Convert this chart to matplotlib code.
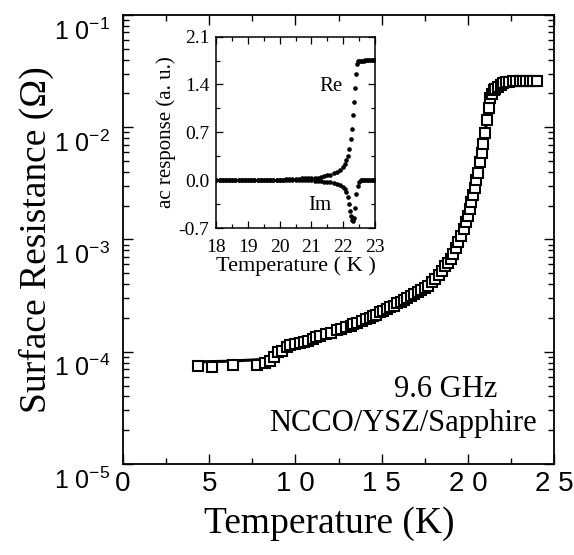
import matplotlib
matplotlib.use('Agg')
import matplotlib.pyplot as plt
import matplotlib.transforms as mtransforms
import numpy as np
from matplotlib.ticker import MultipleLocator, LogLocator, NullFormatter, FixedLocator

# Main data: surface resistance squares (T in K, log10 of Rs in ohm)
sq_t = [4.35, 5.15, 6.4, 7.75, 8.25, 8.5, 8.75, 9.0, 9.25, 9.5, 9.7, 9.95,
        10.25, 10.5, 10.75, 11.0, 11.2, 11.45, 11.8, 12.05, 12.4, 12.65, 12.95,
        13.2, 13.35, 13.6, 13.85, 14.1, 14.3, 14.5, 14.7, 14.9, 15.1, 15.3,
        15.5, 15.7, 15.9, 16.1, 16.3, 16.5, 16.7, 16.9, 17.1, 17.3, 17.5,
        17.7, 17.9, 18.1, 18.3, 18.5, 18.7, 18.85, 19.0, 19.15, 19.3, 19.45,
        19.6, 19.75, 19.9, 20.0, 20.1, 20.2, 20.3, 20.4, 20.5, 20.6, 20.7,
        20.8, 20.9, 21.0, 21.1, 21.2, 21.3, 21.4, 21.5, 21.6, 21.75, 21.9,
        22.05, 22.2, 22.4, 22.6, 22.8, 23.0, 23.2, 23.4, 23.6, 23.8, 24.0]
sq_log_rs = [-4.13, -4.135, -4.12, -4.12, -4.10, -4.08, -4.05, -4.00, -3.99,
             -3.96, -3.94, -3.93, -3.92, -3.91, -3.90, -3.89, -3.87, -3.86,
             -3.84, -3.83, -3.81, -3.80, -3.78, -3.77, -3.75, -3.74, -3.73,
             -3.71, -3.70, -3.68, -3.67, -3.65, -3.64, -3.62, -3.60, -3.59,
             -3.57, -3.56, -3.54, -3.52, -3.50, -3.49, -3.47, -3.45, -3.43,
             -3.41, -3.38, -3.35, -3.32, -3.28, -3.24, -3.21, -3.17, -3.13,
             -3.08, -3.02, -2.97, -2.91, -2.84, -2.79, -2.73, -2.67, -2.60,
             -2.54, -2.47, -2.41, -2.31, -2.23, -2.15, -2.05, -1.94, -1.83,
             -1.74, -1.70, -1.67, -1.66, -1.64, -1.62, -1.61, -1.60, -1.595,
             -1.59, -1.59, -1.585, -1.585, -1.585, -1.585, -1.585, -1.585]

# fit curve
fit_t = [4.3, 6.0, 8.0, 8.5, 9.0, 9.5, 10.0, 11.0, 12.0, 13.0, 14.0, 15.0,
         16.0, 17.0, 18.0, 18.5, 19.0, 19.5, 20.0, 20.5, 21.0, 21.2, 21.4,
         21.7, 22.0, 23.0, 24.0]
fit_log_rs = [-4.09, -4.085, -4.07, -4.05, -4.01, -3.97, -3.94, -3.89, -3.84,
              -3.79, -3.72, -3.65, -3.56, -3.47, -3.35, -3.28, -3.17, -3.02,
              -2.79, -2.47, -2.05, -1.83, -1.70, -1.64, -1.61, -1.59, -1.585]

# Inset: ac response
re_t = [18.0, 18.1, 18.2, 18.3, 18.4, 18.5, 18.6, 18.7, 18.8, 18.9, 19.0,
        19.1, 19.2, 19.3, 19.4, 19.5, 19.6, 19.7, 19.8, 19.9, 20.0, 20.1,
        20.2, 20.3, 20.4, 20.5, 20.6, 20.7, 20.8, 20.9, 21.0, 21.1, 21.2,
        21.3, 21.4, 21.5, 21.6, 21.7, 21.8, 21.9, 22.0, 22.05, 22.1, 22.15,
        22.2, 22.25, 22.28, 22.31, 22.34, 22.37, 22.4, 22.43, 22.46, 22.5,
        22.55, 22.6, 22.65, 22.7, 22.75, 22.8, 22.85, 22.9, 22.95, 23.0]
re_val = [0.0, 0.0, 0.0, 0.0, 0.0, 0.0, 0.0, 0.0, 0.0, 0.0, 0.0,
          0.0, 0.0, 0.0, 0.0, 0.0, 0.01, 0.01, 0.01, 0.01, 0.01, 0.01,
          0.02, 0.02, 0.02, 0.02, 0.02, 0.03, 0.03, 0.03, 0.03, 0.04, 0.04,
          0.05, 0.06, 0.07, 0.08, 0.10, 0.12, 0.15, 0.20, 0.24, 0.29, 0.36,
          0.45, 0.60, 0.75, 0.95, 1.15, 1.35, 1.55, 1.70, 1.74, 1.75,
          1.75, 1.75, 1.75, 1.76, 1.76, 1.76, 1.76, 1.76, 1.76, 1.76]
im_t = [18.0, 18.1, 18.2, 18.3, 18.4, 18.5, 18.6, 18.7, 18.8, 18.9, 19.0,
        19.1, 19.2, 19.3, 19.4, 19.5, 19.6, 19.7, 19.8, 19.9, 20.0, 20.1,
        20.2, 20.3, 20.4, 20.5, 20.6, 20.7, 20.8, 20.9, 21.0, 21.1, 21.2,
        21.3, 21.4, 21.5, 21.6, 21.7, 21.8, 21.9, 22.0, 22.05, 22.1, 22.15,
        22.2, 22.23, 22.26, 22.29, 22.31, 22.33, 22.38, 22.42, 22.46, 22.5,
        22.55, 22.6, 22.65, 22.7, 22.75, 22.8, 22.85, 22.9, 22.95, 23.0]
im_val = [0.0, 0.0, 0.0, 0.0, 0.0, 0.0, 0.0, 0.0, 0.0, 0.0, 0.0,
          0.0, 0.0, 0.0, 0.0, 0.0, 0.0, 0.0, 0.0, 0.0, 0.0, 0.0,
          0.0, 0.0, 0.0, 0.0, 0.0, 0.0, 0.0, 0.0, 0.0, -0.01, -0.01,
          -0.01, -0.02, -0.02, -0.03, -0.04, -0.05, -0.07, -0.10, -0.13,
          -0.17, -0.25, -0.35, -0.45, -0.53, -0.58, -0.60, -0.55, -0.40,
          -0.20, -0.08, -0.02, 0.0, 0.0, 0.0, 0.0, 0.0, 0.0, 0.0, 0.0, 0.0, 0.0]

y_ticks = [1e-5, 1e-4, 1e-3, 1e-2, 1e-1]
y_labels = [r'1 0$^{\mathregular{-5}}$', r'1 0$^{\mathregular{-4}}$',
            r'1 0$^{\mathregular{-3}}$', r'1 0$^{\mathregular{-2}}$',
            r'1 0$^{\mathregular{-1}}$']
x_ticks = [0, 5, 10, 15, 20, 25]
x_labels = ['0', '5', '1 0', '1 5', '2 0', '2 5']
inset_yticks = [-0.7, 0.0, 0.7, 1.4, 2.1]
inset_ylabels = ['-0.7', '0.0', '0.7', '1.4', '2.1']

plt.rcParams['font.family'] = 'Liberation Serif'
plt.rcParams['mathtext.fontset'] = 'custom'
plt.rcParams['mathtext.rm'] = 'Liberation Sans'
plt.rcParams['mathtext.it'] = 'Liberation Sans'
plt.rcParams['mathtext.bf'] = 'Liberation Sans'

fig = plt.figure(figsize=(5.74, 5.55), dpi=100)
ax = fig.add_axes([0.2143, 0.164, 0.7509, 0.809])

ax.plot(fit_t, 10 ** np.array(fit_log_rs), color='black', lw=2.2, zorder=2)
ax.plot(sq_t, 10 ** np.array(sq_log_rs), ls='none', marker='s', ms=6.5,
        mfc='white', mec='black', mew=1.5, zorder=3)

ax.set_yscale('log')
ax.set_xlim(0, 25)
ax.set_ylim(1e-5, 1e-1)

ax.yaxis.set_major_locator(FixedLocator(y_ticks))
ax.yaxis.set_minor_locator(LogLocator(base=10, subs=range(2, 10), numticks=50))
ax.yaxis.set_minor_formatter(NullFormatter())
ax.set_yticks(y_ticks)
ax.set_yticklabels(y_labels, fontfamily='Liberation Sans', fontsize=18)
ax.set_xticks(x_ticks)
ax.set_xticklabels(x_labels, fontfamily='Liberation Sans', fontsize=20)
ax.xaxis.set_minor_locator(MultipleLocator(2.5))

ax.tick_params(which='both', direction='in', top=True, right=True, width=1.0)
ax.tick_params(which='major', length=7)
ax.tick_params(which='minor', length=4)
ax.tick_params(axis='x', which='major', pad=5)
ax.tick_params(axis='y', which='major', pad=9)
for s in ax.spines.values():
    s.set_linewidth(1.3)

# shift y tick labels down so the exponent sits at the tick
off = mtransforms.ScaledTranslation(0, -0.14, fig.dpi_scale_trans)
for lbl in ax.get_yticklabels():
    lbl.set_transform(lbl.get_transform() + off)

ax.set_xlabel('Temperature (K)', fontsize=27, labelpad=2)
ax.xaxis.set_label_coords(0.478, -0.095)
ax.set_ylabel('Surface Resistance (\u03a9)', fontsize=27, labelpad=0)

ax.text(0.748, 0.165, '9.6 GHz', transform=ax.transAxes, fontsize=22,
        ha='center', va='center')
ax.text(0.65, 0.09, 'NCCO/YSZ/Sapphire', transform=ax.transAxes, fontsize=22,
        ha='center', va='center')

# Inset
axi = fig.add_axes([0.377, 0.589, 0.276, 0.345])
axi.plot(re_t, re_val, ls='none', marker='o', ms=2.3, color='black')
axi.plot(im_t, im_val, ls='none', marker='o', ms=2.3, color='black')
axi.set_xlim(18, 23)
axi.set_ylim(-0.7, 2.1)
axi.set_xticks([18, 19, 20, 21, 22, 23])
axi.set_yticks(inset_yticks)
axi.set_yticklabels(inset_ylabels)
axi.xaxis.set_minor_locator(MultipleLocator(0.5))
axi.yaxis.set_minor_locator(MultipleLocator(0.35))
axi.tick_params(which='both', direction='in', top=True, right=True,
                labelsize=14, width=0.9)
axi.tick_params(which='major', length=5)
axi.tick_params(which='minor', length=3)
axi.tick_params(axis='x', pad=8)
axi.tick_params(axis='y', pad=5)
for s in axi.spines.values():
    s.set_linewidth(1.1)
axi.set_xlabel('Temperature ( K )', fontsize=16, labelpad=0)
axi.set_ylabel('ac response (a. u.)', fontsize=15, labelpad=2)
axi.text(21.62, 1.37, 'Re', fontsize=15, ha='center', va='center')
axi.text(21.27, -0.37, 'Im', fontsize=15, ha='center', va='center')

fig.savefig('out.png', dpi=100)
